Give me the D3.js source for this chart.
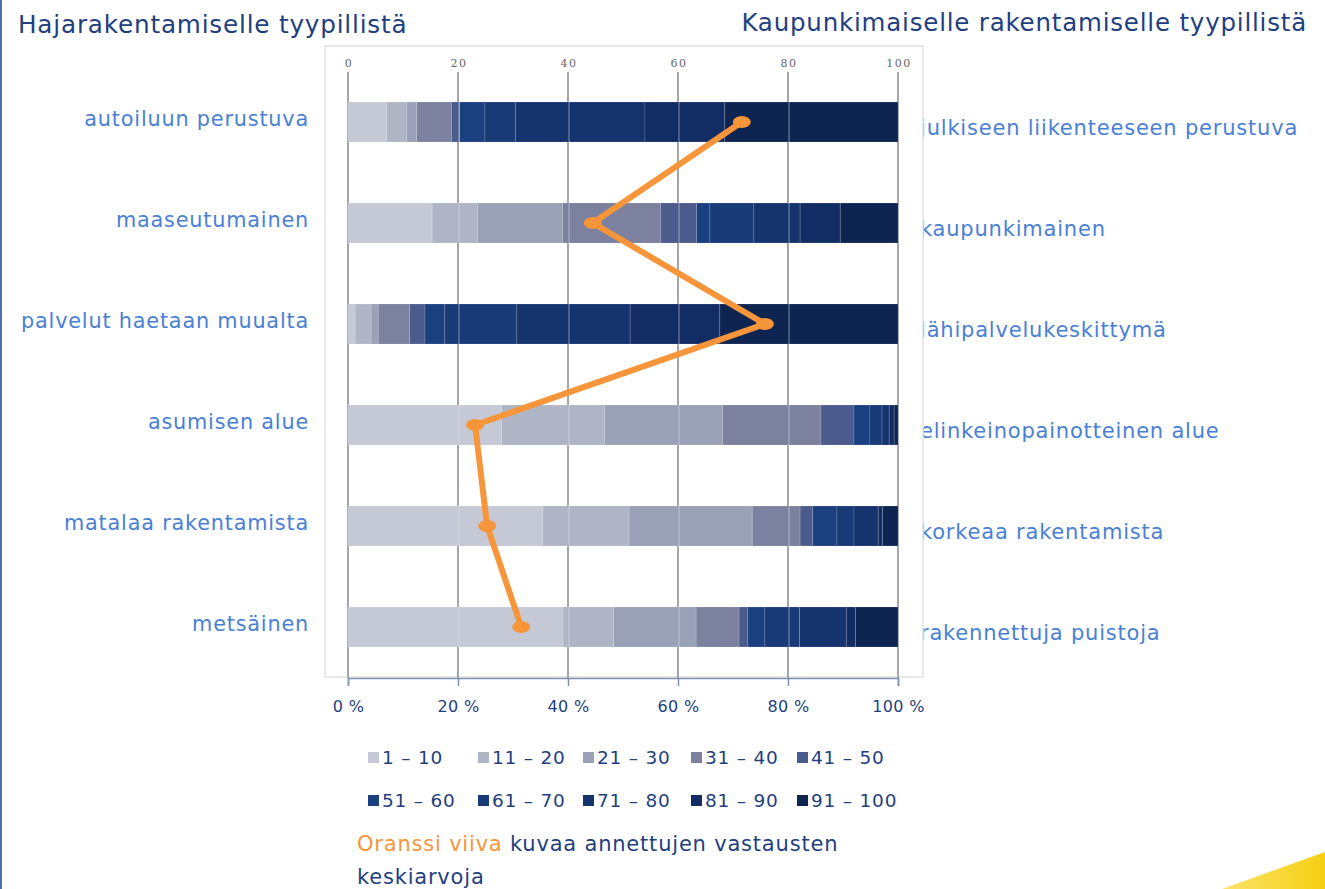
<!DOCTYPE html>
<html>
<head>
<meta charset="utf-8">
<script src="https://cdn.jsdelivr.net/npm/d3@7"></script>
<style>
  body { margin: 0; background: #fff; }
  svg { display: block; }
</style>
</head>
<body>
<script>
const width = 1325;
const height = 889;

// categories: left = "hajarakentaminen" end, right = "kaupunkimainen" end
const leftLabels = ["autoiluun perustuva", "maaseutumainen", "palvelut haetaan muualta",
  "asumisen alue", "matalaa rakentamista", "metsäinen"];
const rightLabels = ["julkiseen liikenteeseen perustuva", "kaupunkimainen", "lähipalvelukeskittymä",
  "elinkeinopainotteinen alue", "korkeaa rakentamista", "rakennettuja puistoja"];

const bins = ["1 – 10", "11 – 20", "21 – 30", "31 – 40", "41 – 50",
  "51 – 60", "61 – 70", "71 – 80", "81 – 90", "91 – 100"];

// share of answers (%) in each bin, one array per row
const shares = [
  [7, 3.7, 1.8, 6.3, 1.5, 4.6, 5.6, 23.5, 14.5, 31.5],
  [15.3, 8.3, 15.4, 17.8, 6.6, 2.4, 8, 8.4, 7.3, 10.5],
  [1.3, 2.9, 1.3, 5.7, 2.8, 3.6, 13.1, 20.6, 16.3, 32.4],
  [27.9, 18.8, 21.4, 17.9, 6, 2.9, 2.2, 1.3, 0.9, 0.7],
  [35.4, 15.7, 22.4, 8.7, 2.3, 4.4, 3.1, 4.4, 0.8, 2.8],
  [39.1, 9.2, 15, 7.8, 1.6, 3.1, 6.3, 8.5, 1.7, 7.7]
];

// mean of the answers per row
const averages = [71.6, 44.5, 75.8, 23.1, 25.3, 31.5];

const topTicks = [0, 20, 40, 60, 80, 100];

const binColors = ["#c5c9d5", "#b0b5c6", "#9aa0b5", "#7b819f", "#4b5b8b",
  "#1b4080", "#183a76", "#15346e", "#122d64", "#0f2551"];

const darkBlue = "#1f3f7f";
const lightBlue = "#4a7fd6";
const orange = "#f7953a";
const font = "'DejaVu Sans', Verdana, sans-serif";

const svg = d3.select("body").append("svg")
  .attr("width", width)
  .attr("height", height)
  .style("font-family", font)
  .style("letter-spacing", "0.05em");

// left page border
svg.append("rect")
  .attr("x", 0).attr("y", 0)
  .attr("width", 2).attr("height", height)
  .attr("fill", "#4f6fa8");

// yellow swoosh bottom right
const grad = svg.append("defs").append("linearGradient")
  .attr("id", "swoosh").attr("x1", "0").attr("x2", "1").attr("y1", "0").attr("y2", "0");
grad.append("stop").attr("offset", "0").attr("stop-color", "#fbe36a");
grad.append("stop").attr("offset", "1").attr("stop-color", "#f6cf12");
svg.append("path")
  .attr("d", `M1222,${height} L1325,852 L1325,${height} Z`)
  .attr("fill", "url(#swoosh)");

// titles
svg.append("text")
  .attr("x", 18).attr("y", 33)
  .attr("fill", darkBlue)
  .style("font-size", "24.7px")
  .text("Hajarakentamiselle tyypillistä");

svg.append("text")
  .attr("x", 1307).attr("y", 31)
  .attr("text-anchor", "end")
  .attr("fill", darkBlue)
  .style("font-size", "24.5px")
  .text("Kaupunkimaiselle rakentamiselle tyypillistä");

const x = d3.scaleLinear().domain([0, 100]).range([348, 898]);
const y = d3.scaleBand().domain(leftLabels).range([71.5, 677.5])
  .paddingInner(0.604).paddingOuter(0.302);
const color = d3.scaleOrdinal().domain(bins).range(binColors);

// right labels go first, the chart box covers their left edge
svg.append("g").selectAll("text")
  .data(rightLabels)
  .enter().append("text")
  .attr("x", 920)
  .attr("y", (d, i) => y(leftLabels[i]) + y.bandwidth() / 2 + 13)
  .attr("fill", lightBlue)
  .style("font-size", "21px")
  .text((d) => d);

// chart box
svg.append("rect")
  .attr("x", 325).attr("y", 46)
  .attr("width", 598).attr("height", 631)
  .attr("fill", "#fff")
  .attr("stroke", "#e2e2e2")
  .attr("stroke-width", 1.5);

// gridlines
svg.append("g").selectAll("line")
  .data(topTicks)
  .enter().append("line")
  .attr("x1", (d) => x(d)).attr("x2", (d) => x(d))
  .attr("y1", 72).attr("y2", 678)
  .attr("stroke", "#9c9ca4")
  .attr("stroke-width", 1.8);

// top axis labels
svg.append("g").selectAll("text")
  .data(topTicks)
  .enter().append("text")
  .attr("x", (d) => x(d) + 1)
  .attr("y", 67)
  .attr("text-anchor", "middle")
  .attr("fill", "#666")
  .style("font-family", "'DejaVu Serif', Georgia, serif")
  .style("font-size", "11px")
  .style("letter-spacing", "1.5px")
  .text((d) => d);

// stacked bars
const rows = svg.append("g").selectAll("g")
  .data(shares)
  .enter().append("g")
  .attr("transform", (d, i) => `translate(0,${y(leftLabels[i])})`);

rows.selectAll("rect")
  .data((d) => {
    let acc = 0;
    return d.map((v, j) => {
      const s = { bin: bins[j], x0: acc, x1: acc + v };
      acc += v;
      return s;
    });
  })
  .enter().append("rect")
  .attr("x", (d) => x(d.x0))
  .attr("width", (d) => x(d.x1) - x(d.x0))
  .attr("height", y.bandwidth())
  .attr("fill", (d) => color(d.bin))
  .attr("stroke", "rgba(255,255,255,0.18)")
  .attr("stroke-width", 0.8);

// faint gridlines seen through the bars
rows.selectAll("line")
  .data(topTicks.slice(1, 5))
  .enter().append("line")
  .attr("x1", (d) => x(d) + 1).attr("x2", (d) => x(d) + 1)
  .attr("y1", 0).attr("y2", y.bandwidth())
  .attr("stroke", "rgba(220,228,240,0.45)")
  .attr("stroke-width", 1.2);

// left labels
svg.append("g").selectAll("text")
  .data(leftLabels)
  .enter().append("text")
  .attr("x", 309)
  .attr("y", (d) => y(d) + y.bandwidth() / 2 + 4)
  .attr("text-anchor", "end")
  .attr("fill", lightBlue)
  .style("font-size", "20.8px")
  .text((d) => d);

// bottom axis
const xAxis = d3.axisBottom(x)
  .tickValues(topTicks)
  .tickSize(8)
  .tickFormat((d) => d + " %");
const axisG = svg.append("g")
  .attr("transform", "translate(0,678)")
  .call(xAxis);
axisG.select(".domain").attr("stroke", "#8090b0").attr("stroke-width", 1.5);
axisG.selectAll(".tick line").attr("stroke", "#8090b0").attr("stroke-width", 1.5);
axisG.selectAll(".tick text")
  .attr("y", 23)
  .attr("fill", darkBlue)
  .style("font-family", font)
  .style("font-size", "16px")
  .style("letter-spacing", "0.02em");

// average line
const line = d3.line()
  .x((d) => x(d))
  .y((d, i) => y(leftLabels[i]) + y.bandwidth() / 2);

svg.append("path")
  .datum(averages)
  .attr("d", line)
  .attr("fill", "none")
  .attr("stroke", orange)
  .attr("stroke-width", 6)
  .attr("stroke-linejoin", "round");

svg.append("g").selectAll("ellipse")
  .data(averages)
  .enter().append("ellipse")
  .attr("cx", (d) => x(d))
  .attr("cy", (d, i) => y(leftLabels[i]) + y.bandwidth() / 2)
  .attr("rx", 9)
  .attr("ry", 6)
  .attr("fill", orange);

// legend
const legendCols = [368, 478, 583, 691, 797];
const legendRows = [757, 800];
const legend = svg.append("g").selectAll("g")
  .data(bins)
  .enter().append("g")
  .attr("transform", (d, i) => `translate(${legendCols[i % 5]},${legendRows[Math.floor(i / 5)]})`);

legend.append("rect")
  .attr("x", 0).attr("y", -5)
  .attr("width", 11).attr("height", 11)
  .attr("fill", (d) => color(d));

legend.append("text")
  .attr("x", 14).attr("y", 7)
  .attr("fill", darkBlue)
  .style("font-size", "18.5px")
  .text((d) => d);

// note
const note = svg.append("text")
  .attr("x", 357).attr("y", 851)
  .style("font-size", "21px");
note.append("tspan").attr("fill", orange).text("Oranssi viiva");
note.append("tspan").attr("fill", darkBlue).text(" kuvaa annettujen vastausten");

svg.append("text")
  .attr("x", 357).attr("y", 884)
  .attr("fill", darkBlue)
  .style("font-size", "21px")
  .text("keskiarvoja");
</script>
</body>
</html>
